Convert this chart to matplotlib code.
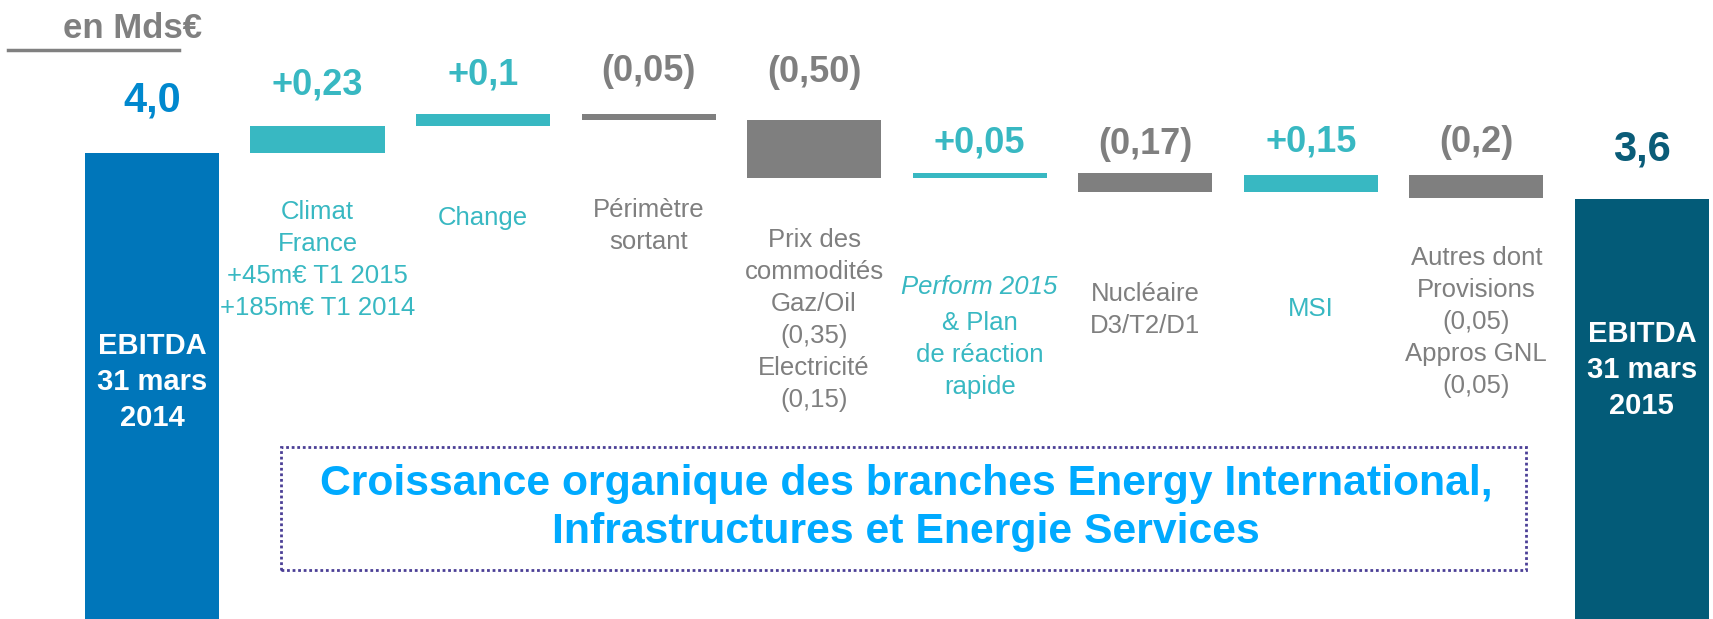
import numpy as np
import matplotlib
matplotlib.use('Agg')
import matplotlib.pyplot as plt
import matplotlib.transforms as mtransforms
from matplotlib.patches import Rectangle
from matplotlib.lines import Line2D

# data
start_value = 4.0
end_value = 3.6
deltas = [0.23, 0.1, -0.05, -0.5, 0.05, -0.17, 0.15, -0.2]
value_labels = ['4,0', '+0,23', '+0,1', '(0,05)', '(0,50)', '+0,05', '(0,17)', '+0,15', '(0,2)', '3,6']
total_labels = ['EBITDA\n31 mars\n2014', 'EBITDA\n31 mars\n2015']
step_labels = ['Climat\nFrance\n+45m€ T1 2015\n+185m€ T1 2014',
               'Change',
               'Périmètre\nsortant',
               'Prix des\ncommodités\nGaz/Oil\n(0,35)\nElectricité\n(0,15)',
               '& Plan\nde réaction\nrapide',
               'Nucléaire\nD3/T2/D1',
               'MSI',
               'Autres dont\nProvisions\n(0,05)\nAppros GNL\n(0,05)']
note_text = 'Croissance organique des branches Energy International,\nInfrastructures et Energie Services'
unit_text = 'en Mds€'

# colours
C_START = '#0076BA'
C_END = '#035B78'
C_UP = '#38B8C2'
C_DOWN = '#7F7F7F'
C_NOTE = '#00AAFF'

W, H = 1713, 619
DPI = 100
plt.rcParams['font.family'] = ['Liberation Sans', 'DejaVu Sans']

fig = plt.figure(figsize=(W / DPI, H / DPI), dpi=DPI)
ax = fig.add_axes([0, 0, 1, 1])
ax.set_xlim(-0.918, 9.43)
ax.set_ylim(0, 5.31)
ax.axis('off')

n = len(deltas) + 2
x = np.arange(n)
bw = 0.81

# waterfall geometry
levels = start_value + np.concatenate([[0], np.cumsum(deltas)])
bottoms = np.minimum(levels[:-1], levels[1:])
heights = np.abs(deltas)
step_colors = [C_UP if d > 0 else C_DOWN for d in deltas]

ax.bar(x[0], start_value, width=bw, color=C_START)
ax.bar(x[1:-1], heights, bottom=bottoms, width=bw, color=step_colors)
ax.bar(x[-1], end_value, width=bw, color=C_END)

tops = [start_value] + list(np.maximum(levels[:-1], levels[1:])) + [end_value]
label_colors = [C_START] + step_colors + [C_END]
label_colors[0] = '#0088CE'
label_colors[-1] = '#0A5C78'
gap_px = [41, 31, 30, 33, 38, 20, 19, 23, 23, 39]
for i in range(n):
    ax.annotate(value_labels[i], xy=(x[i], tops[i]), xytext=(0, gap_px[i] * 72 / DPI),
                textcoords='offset points', ha='center', va='baseline',
                fontsize=30 if i in (0, n - 1) else 26, fontweight='bold',
                color=label_colors[i])

# labels inside total bars
trans = mtransforms.blended_transform_factory(ax.transData, ax.transAxes)
for xi, lab, ypx in [(x[0], total_labels[0], 382), (x[-1], total_labels[1], 370)]:
    ax.text(xi, 1 - ypx / H, lab, transform=trans, ha='center', va='center',
            fontsize=21, fontweight='bold', color='white', linespacing=1.35)

# step descriptions
label_y = [260, 218, 226, 320, 355, 310, 309, 322]
for i, lab in enumerate(step_labels):
    ax.text(x[i + 1], 1 - label_y[i] / H, lab, transform=trans, ha='center', va='center',
            fontsize=18.5, color=step_colors[i], linespacing=1.43)
ax.text(x[5], 1 - 287 / H, 'Perform 2015', transform=trans, ha='center', va='center',
        fontsize=18.5, color=C_UP, style='italic')

# unit header
fig.text(133 / W, 1 - 38 / H, unit_text, ha='center', va='baseline',
         fontsize=25, fontweight='bold', color='#808080')
fig.add_artist(Line2D([8 / W, 179 / W], [1 - 50 / H, 1 - 50 / H], color='#808080', lw=2.5))

# dotted note box
fig.add_artist(Rectangle((281 / W, 1 - 570 / H), (1526 - 281) / W, (570 - 447) / H,
                         transform=fig.transFigure, fill=False, linestyle=(0, (1, 1)),
                         edgecolor='#4B3F96', lw=2))
fig.text(906 / W, 1 - 508 / H, note_text, ha='center', va='center', fontsize=30.8,
         fontweight='bold', color=C_NOTE, linespacing=1.28)

fig.savefig('out.png', dpi=DPI)
